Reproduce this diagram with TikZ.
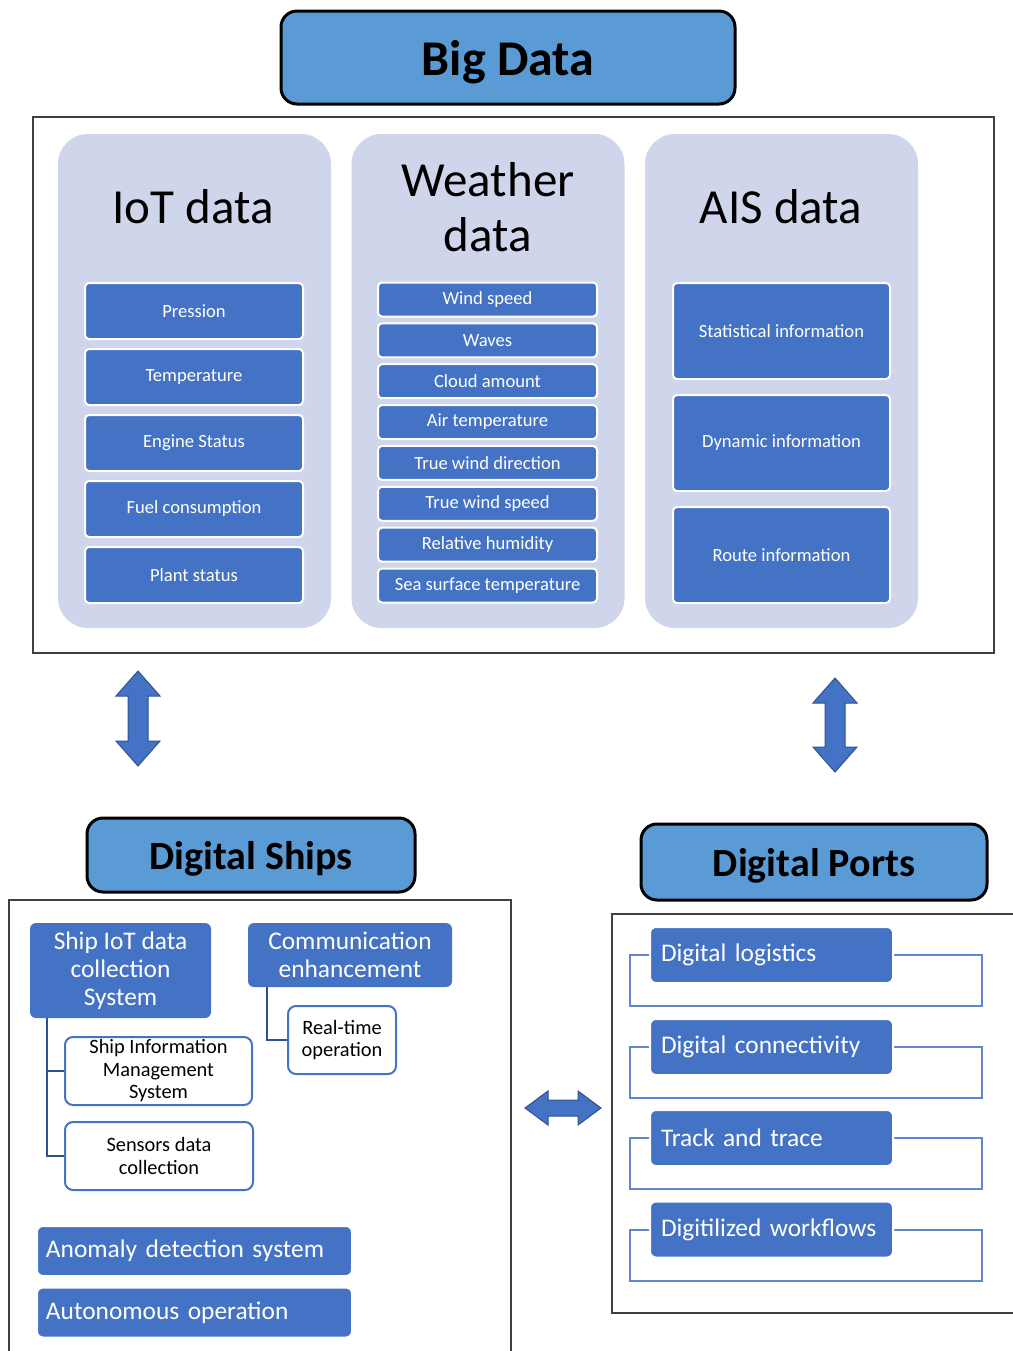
\documentclass[tikz,border=0pt]{standalone}
\usepackage{fontspec}
\setmainfont{Carlito}
\usetikzlibrary{positioning}
\definecolor{bdblue}{HTML}{4472C4}
\definecolor{bdtitle}{HTML}{5B9BD5}
\definecolor{bdpanel}{HTML}{CFD5EA}
\definecolor{bdline}{HTML}{2F528F}
\definecolor{bdframe}{HTML}{404040}

\begin{document}
\begin{tikzpicture}[x=0.5pt,y=-0.5pt,
		titleblock/.style={shape=rectangle,rounded corners=8pt,draw=black,fill=bdtitle,line width=1.5pt,text depth=0pt,
							font=\bfseries\fontsize{20}{24}\selectfont},
		panel/.style={shape=rectangle,rounded corners=15pt,fill=bdpanel,minimum width=136.5pt,minimum height=247pt},
		paneltitle/.style={align=center,font=\fontsize{24.5}{27.5}\selectfont},
		miniblock/.style={shape=rectangle,rounded corners=2pt,draw=white,line width=1pt,fill=bdblue,text=white,
							inner sep=0pt,font=\fontsize{9.3}{11}\selectfont},
		subblock/.style={shape=rectangle,rounded corners=3pt,fill=bdblue,text=white,align=center,
							inner sep=0pt,font=\fontsize{12.7}{14}\selectfont},
		leafblock/.style={shape=rectangle,rounded corners=4pt,draw=bdblue,line width=1pt,fill=white,align=center,
							inner sep=0pt,minimum height=34pt,font=\fontsize{10.2}{11.25}\selectfont},
		listblock/.style={shape=rectangle,rounded corners=3pt,draw=white,line width=1pt,fill=bdblue,text=white,
							align=left,inner ysep=0pt,font=\fontsize{12.7}{14}\selectfont},
		frame/.style={draw=bdframe,line width=1pt},
		tree/.style={draw=bdline,line width=1pt},
		bracket/.style={draw=bdblue!85!white,line width=1pt},
		blockarrow/.style={fill=bdblue,draw=bdline,line width=0.5pt,line join=miter}]
		\useasboundingbox (0,0) rectangle (1013,1351);

		% big data
		\node[titleblock,minimum width=227pt,minimum height=46.5pt,font=\bfseries\fontsize{25}{30}\selectfont] (bigdata) at (508,57.5) {Big Data};
		\draw[frame] (33,117) rectangle (994,653);

		\node[panel] (iot) at (194.5,381) {};
		\node[panel] (weather) at (488,381) {};
		\node[panel] (ais) at (781.5,381) {};

		\node[paneltitle] (iottitle) at (193,207) {IoT data};
		\node[paneltitle] (weathertitle) at (488,207) {Weather\\data};
		\node[paneltitle] (aistitle) at (781,207) {AIS data};

		\foreach \txt [count=\i from 0] in {Pression,Temperature,Engine Status,Fuel consumption,Plant status}
			\node[miniblock,minimum width=109pt,minimum height=28pt] (iot\i) at (194,311+66*\i) {\txt};
		\foreach \txt [count=\i from 0] in {Wind speed,Waves,Cloud amount,Air temperature,True wind direction,
				True wind speed,Relative humidity,Sea surface temperature}
			\node[miniblock,minimum width=109.5pt,minimum height=17pt] (weather\i) at (487.5,299.5+40.86*\i) {\txt};
		\foreach \txt [count=\i from 0] in {Statistical information,Dynamic information,Route information}
			\node[miniblock,minimum width=108.5pt,minimum height=48pt] (ais\i) at (781.5,331+112*\i) {\txt};

		% arrows
		\filldraw[blockarrow] (138,671) -- ++(22,25) -- ++(-12,0) -- ++(0,45) -- ++(12,0) -- ++(-22,25)
			-- ++(-22,-25) -- ++(12,0) -- ++(0,-45) -- ++(-12,0) -- cycle;
		\filldraw[blockarrow] (835,678) -- ++(22,25) -- ++(-12,0) -- ++(0,44) -- ++(12,0) -- ++(-22,25)
			-- ++(-22,-25) -- ++(12,0) -- ++(0,-44) -- ++(-12,0) -- cycle;
		\filldraw[blockarrow] (525,1108) -- ++(23,-17) -- ++(0,9) -- ++(30,0) -- ++(0,-9) -- ++(23,17)
			-- ++(-23,17) -- ++(0,-9) -- ++(-30,0) -- ++(0,9) -- cycle;

		% digital ships
		\node[titleblock,minimum width=164pt,minimum height=37pt] (ships) at (251,855) {Digital Ships};
		\draw[frame] (9,1351) -- (9,900) -- (511,900) -- (511,1351);

		\node[subblock,minimum width=90.5pt,minimum height=47.5pt] (iotsys) at (120.5,970.5) {Ship IoT data\\collection\\System};
		\node[subblock,minimum width=102pt,minimum height=32pt] (comm) at (350,955) {Communication\\enhancement};
		\node[leafblock,minimum width=93.5pt] (sims) at (158.5,1071) {Ship Information\\Management\\System};
		\node[leafblock,minimum width=94pt] (sensors) at (159,1156) {Sensors data\\collection};
		\node[leafblock,minimum width=54pt] (realtime) at (342,1040) {Real-time\\operation};
		\draw[tree] (iotsys.south west) ++(17,0) |- (sims.west);
		\draw[tree] (iotsys.south west) ++(17,0) |- (sensors.west);
		\draw[tree] (comm.south west) ++(19,0) |- (realtime.west);

		\node[listblock,text width=148.5pt,inner xsep=4.5pt,minimum height=25pt] (anomaly) at (194.5,1251) {Anomaly detection system};
		\node[listblock,text width=148.5pt,inner xsep=4.5pt,minimum height=25pt] (autonomous) at (194.5,1312.5) {Autonomous operation};

		% digital ports
		\node[titleblock,minimum width=173pt,minimum height=38pt] (ports) at (814,862) {Digital Ports};
		\draw[frame] (1013,914) -- (612,914) -- (612,1313) -- (1013,1313);

		\foreach \txt/\y [count=\i] in {Digital logistics/955,Digital connectivity/1047,Track and trace/1138,Digitilized workflows/1229.5}{
			\draw[bracket] (630,\y) rectangle (982,\y+51);
			\node[listblock,text width=110.5pt,inner xsep=5.5pt,minimum height=28pt] (port\i) at (771.5,\y) {\txt};
		}
	\end{tikzpicture}
\end{document}
